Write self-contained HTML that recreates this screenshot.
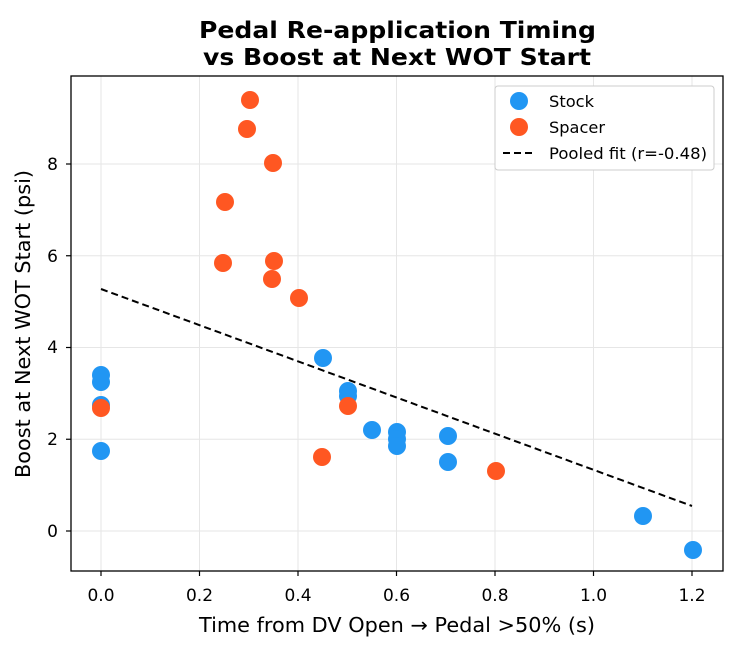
<!DOCTYPE html>
<html><head><meta charset="utf-8"><style>
body{margin:0;background:#fff}
text{font-family:"DejaVu Sans","Liberation Sans",sans-serif;fill:#000}
</style></head><body>
<svg width="748" height="650" xmlns="http://www.w3.org/2000/svg">
<rect width="748" height="650" fill="#fff"/>
<g stroke="#e6e6e6" stroke-width="1">
<line x1="101" y1="76" x2="101" y2="571"/><line x1="199.5" y1="76" x2="199.5" y2="571"/>
<line x1="298" y1="76" x2="298" y2="571"/><line x1="396.5" y1="76" x2="396.5" y2="571"/>
<line x1="495" y1="76" x2="495" y2="571"/><line x1="593.5" y1="76" x2="593.5" y2="571"/>
<line x1="692" y1="76" x2="692" y2="571"/>
<line x1="71" y1="531" x2="723" y2="531"/><line x1="71" y1="439.25" x2="723" y2="439.25"/>
<line x1="71" y1="347.5" x2="723" y2="347.5"/><line x1="71" y1="255.75" x2="723" y2="255.75"/>
<line x1="71" y1="164" x2="723" y2="164"/>
</g>
<line x1="101" y1="289" x2="692" y2="506" stroke="#000" stroke-width="2" stroke-dasharray="7,4"/>
<g fill="#2196F3">
<circle cx="101" cy="375" r="9"/><circle cx="101" cy="382" r="9"/><circle cx="101" cy="405" r="9"/><circle cx="101" cy="451" r="9"/>
<circle cx="323" cy="358" r="9"/><circle cx="348" cy="391" r="9"/><circle cx="348" cy="396" r="9"/>
<circle cx="372" cy="430" r="9"/><circle cx="397" cy="432" r="9"/><circle cx="397" cy="439" r="9"/><circle cx="397" cy="446" r="9"/>
<circle cx="448" cy="436" r="9"/><circle cx="448" cy="462" r="9"/><circle cx="643" cy="516" r="9"/><circle cx="693" cy="550" r="9"/>
</g>
<g fill="#FF5722">
<circle cx="101" cy="408" r="9"/><circle cx="225" cy="202" r="9"/><circle cx="223" cy="263" r="9"/>
<circle cx="250" cy="100" r="9"/><circle cx="247" cy="129" r="9"/><circle cx="273" cy="163" r="9"/>
<circle cx="274" cy="261" r="9"/><circle cx="272" cy="279" r="9"/><circle cx="299" cy="298" r="9"/>
<circle cx="322" cy="457" r="9"/><circle cx="348" cy="406" r="9"/><circle cx="496" cy="471" r="9"/>
</g>
<rect x="71" y="76" width="652" height="495" fill="none" stroke="#000" stroke-width="1.3"/>
<g stroke="#000" stroke-width="1.2">
<line x1="101" y1="571" x2="101" y2="576"/><line x1="199.5" y1="571" x2="199.5" y2="576"/><line x1="298" y1="571" x2="298" y2="576"/>
<line x1="396.5" y1="571" x2="396.5" y2="576"/><line x1="495" y1="571" x2="495" y2="576"/><line x1="593.5" y1="571" x2="593.5" y2="576"/><line x1="692" y1="571" x2="692" y2="576"/>
<line x1="66" y1="531" x2="71" y2="531"/><line x1="66" y1="439.25" x2="71" y2="439.25"/><line x1="66" y1="347.5" x2="71" y2="347.5"/><line x1="66" y1="255.75" x2="71" y2="255.75"/><line x1="66" y1="164" x2="71" y2="164"/>
</g>
<g font-size="17" text-anchor="middle">
<text x="101" y="601">0.0</text><text x="199.5" y="601">0.2</text><text x="298" y="601">0.4</text><text x="396.5" y="601">0.6</text>
<text x="495" y="601">0.8</text><text x="593.5" y="601">1.0</text><text x="692" y="601">1.2</text>
</g>
<g font-size="17" text-anchor="end">
<text x="58" y="537">0</text><text x="58" y="445">2</text><text x="58" y="353">4</text><text x="58" y="262">6</text><text x="58" y="170">8</text>
</g>
<text x="199" y="632" font-size="20" textLength="396" lengthAdjust="spacingAndGlyphs">Time from DV Open → Pedal &gt;50% (s)</text>
<text transform="translate(30,478) rotate(-90)" font-size="20" textLength="308" lengthAdjust="spacingAndGlyphs">Boost at Next WOT Start (psi)</text>
<text x="199" y="38" font-size="23" font-weight="bold" textLength="397" lengthAdjust="spacingAndGlyphs">Pedal Re-application Timing</text>
<text x="203" y="65" font-size="23" font-weight="bold" textLength="388" lengthAdjust="spacingAndGlyphs">vs Boost at Next WOT Start</text>
<rect x="495" y="86" width="219" height="84" rx="3" fill="#fff" stroke="#ccc"/>
<circle cx="519" cy="101" r="9" fill="#2196F3"/><text x="549" y="107" font-size="16" textLength="45" lengthAdjust="spacingAndGlyphs">Stock</text>
<circle cx="519" cy="127" r="9" fill="#FF5722"/><text x="549" y="133" font-size="16" textLength="56" lengthAdjust="spacingAndGlyphs">Spacer</text>
<line x1="503" y1="153" x2="535" y2="153" stroke="#000" stroke-width="2" stroke-dasharray="7,4"/><text x="549" y="159" font-size="16" textLength="158" lengthAdjust="spacingAndGlyphs">Pooled fit (r=-0.48)</text>
</svg>
</body></html>
